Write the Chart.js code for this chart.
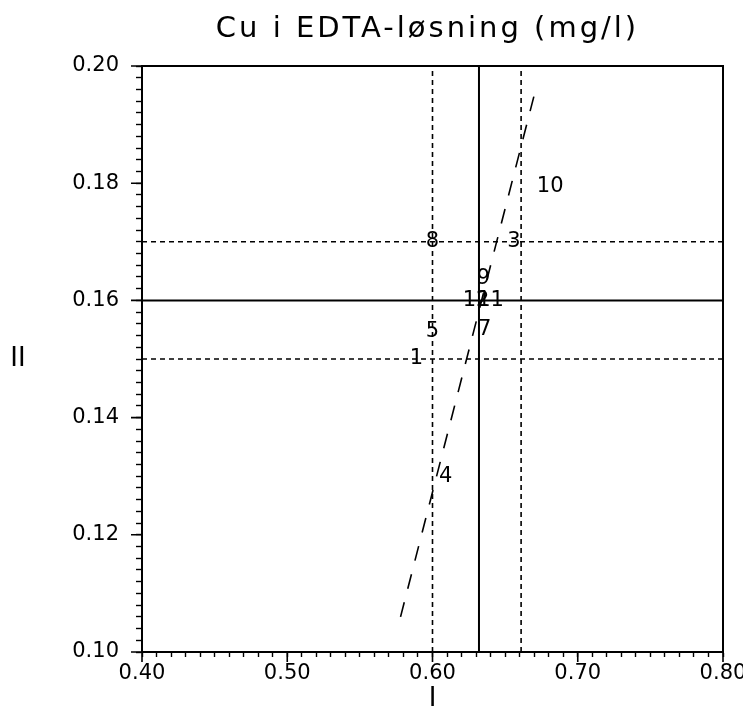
<!DOCTYPE html>
<html>
<head>
<meta charset="utf-8">
<title>Cu i EDTA-løsning</title>
<script src="https://cdn.jsdelivr.net/npm/chart.js@4.4.0/dist/chart.umd.min.js"></script>
<style>
    html, body { margin: 0; padding: 0; background: #fff; }
    canvas { display: block; }
</style>
</head>
<body>
<canvas id="chart" width="743" height="715"></canvas>
<script>
// lab numbers and their results for sample I (x) and sample II (y)
const labNames = ['1', '3', '4', '5', '7', '8', '9', '10', '11', '12'];
const sampleI  = [0.589, 0.656, 0.609, 0.600, 0.636, 0.600, 0.635, 0.681, 0.640, 0.630];
const sampleII = [0.150, 0.170, 0.130, 0.1546, 0.155, 0.170, 0.1638, 0.1794, 0.160, 0.160];

// median (solid) and limit (dotted) lines
const medianI = 0.632;
const limitsI = [0.600, 0.661];
const medianII = 0.160;
const limitsII = [0.150, 0.170];

// 45 degree line through the median
const diagI = [0.578, 0.670];
const diagII = [0.106, 0.195];

// axes
const xMin = 0.40, xMax = 0.80;
const yMin = 0.10, yMax = 0.20;
const xMajor = [0.40, 0.50, 0.60, 0.70, 0.80];
const yMajor = [0.10, 0.12, 0.14, 0.16, 0.18, 0.20];

const FONT = 'DejaVu Sans';

function lineSet(pts, dash) {
    return {
        type: 'line',
        data: pts,
        borderColor: '#000',
        borderWidth: dash ? 1.6 : 2,
        borderDash: dash || [],
        pointRadius: 0,
        fill: false,
        tension: 0
    };
}

const datasets = [{
    type: 'scatter',
    data: sampleI.map((v, i) => ({ x: v, y: sampleII[i] })),
    pointRadius: 0,
    showLine: false
}];
datasets.push(lineSet([{ x: medianI, y: yMin }, { x: medianI, y: yMax }]));
datasets.push(lineSet([{ x: xMin, y: medianII }, { x: xMax, y: medianII }]));
limitsI.forEach(v => datasets.push(lineSet([{ x: v, y: yMin }, { x: v, y: yMax }], [5, 4])));
limitsII.forEach(v => datasets.push(lineSet([{ x: xMin, y: v }, { x: xMax, y: v }], [5, 4])));
datasets.push(lineSet([{ x: diagI[0], y: diagII[0] }, { x: diagI[1], y: diagII[1] }], [15, 14]));

// frame, major ticks, titles and lab numbers
const extras = {
    id: 'extras',
    afterDatasetsDraw(chart) {
        const ctx = chart.ctx;
        const meta = chart.getDatasetMeta(0);
        ctx.save();
        ctx.fillStyle = '#000';
        ctx.font = '21px "' + FONT + '"';
        ctx.textAlign = 'center';
        ctx.textBaseline = 'middle';
        meta.data.forEach((pt, i) => {
            ctx.fillText(labNames[i], pt.x, pt.y);
        });
        ctx.restore();
    },
    afterDraw(chart) {
        const ctx = chart.ctx;
        const a = chart.chartArea;
        const xs = chart.scales.x, ys = chart.scales.y;
        ctx.save();
        ctx.strokeStyle = '#000';
        ctx.lineWidth = 2;
        ctx.beginPath();
        ctx.moveTo(a.left, a.top);
        ctx.lineTo(a.right, a.top);
        ctx.lineTo(a.right, a.bottom);
        ctx.stroke();

        ctx.lineWidth = 1.6;
        ctx.beginPath();
        xMajor.forEach(v => {
            const px = xs.getPixelForValue(v);
            ctx.moveTo(px, a.bottom);
            ctx.lineTo(px, a.bottom + 10);
        });
        yMajor.forEach(v => {
            const py = ys.getPixelForValue(v);
            ctx.moveTo(a.left - 11, py);
            ctx.lineTo(a.left, py);
        });
        ctx.stroke();

        ctx.fillStyle = '#000';
        ctx.textBaseline = 'middle';
        ctx.textAlign = 'center';
        ctx.letterSpacing = '3px';
        ctx.font = '29px "' + FONT + '"';
        ctx.fillText('Cu i EDTA-løsning (mg/l)', (a.left + a.right) / 2 - 5, 29);

        ctx.letterSpacing = '0px';
        ctx.font = '26px "' + FONT + '"';
        ctx.fillText('II', a.left - 124, (a.top + a.bottom) / 2);
        ctx.restore();
    }
};

new Chart(document.getElementById('chart'), {
    type: 'scatter',
    data: { datasets },
    plugins: [extras],
    options: {
        responsive: false,
        animation: false,
        layout: { padding: { left: 0, top: 66, right: 20, bottom: 0 } },
        plugins: {
            legend: { display: false },
            title: { display: false },
            tooltip: { enabled: false }
        },
        scales: {
            x: {
                type: 'linear',
                min: xMin,
                max: xMax,
                ticks: {
                    stepSize: 0.01,
                    autoSkip: false,
                    maxRotation: 0,
                    color: '#000',
                    padding: 4,
                    font: { family: FONT, size: 21 },
                    callback: v => Math.round(v * 100) % 10 === 0 ? v.toFixed(2) : ''
                },
                grid: { drawOnChartArea: false, tickLength: 5, tickColor: '#000', tickWidth: 1.4 },
                border: { color: '#000', width: 2 },
                title: { display: true, text: 'I', color: '#000', padding: 0, font: { family: FONT, size: 26 } },
                afterFit(s) { s.height = 63; s.paddingLeft = 0; s.paddingRight = 0; }
            },
            y: {
                type: 'linear',
                min: yMin,
                max: yMax,
                ticks: {
                    stepSize: 0.002,
                    autoSkip: false,
                    color: '#000',
                    padding: 17,
                    font: { family: FONT, size: 21 },
                    callback: v => Math.round(v * 1000) % 20 === 0 ? v.toFixed(2) : ''
                },
                grid: { drawOnChartArea: false, tickLength: 6, tickColor: '#000', tickWidth: 1.4 },
                border: { color: '#000', width: 2 },
                afterFit(s) { s.width = 142; s.paddingTop = 0; s.paddingBottom = 0; }
            }
        }
    }
});
</script>
</body>
</html>
